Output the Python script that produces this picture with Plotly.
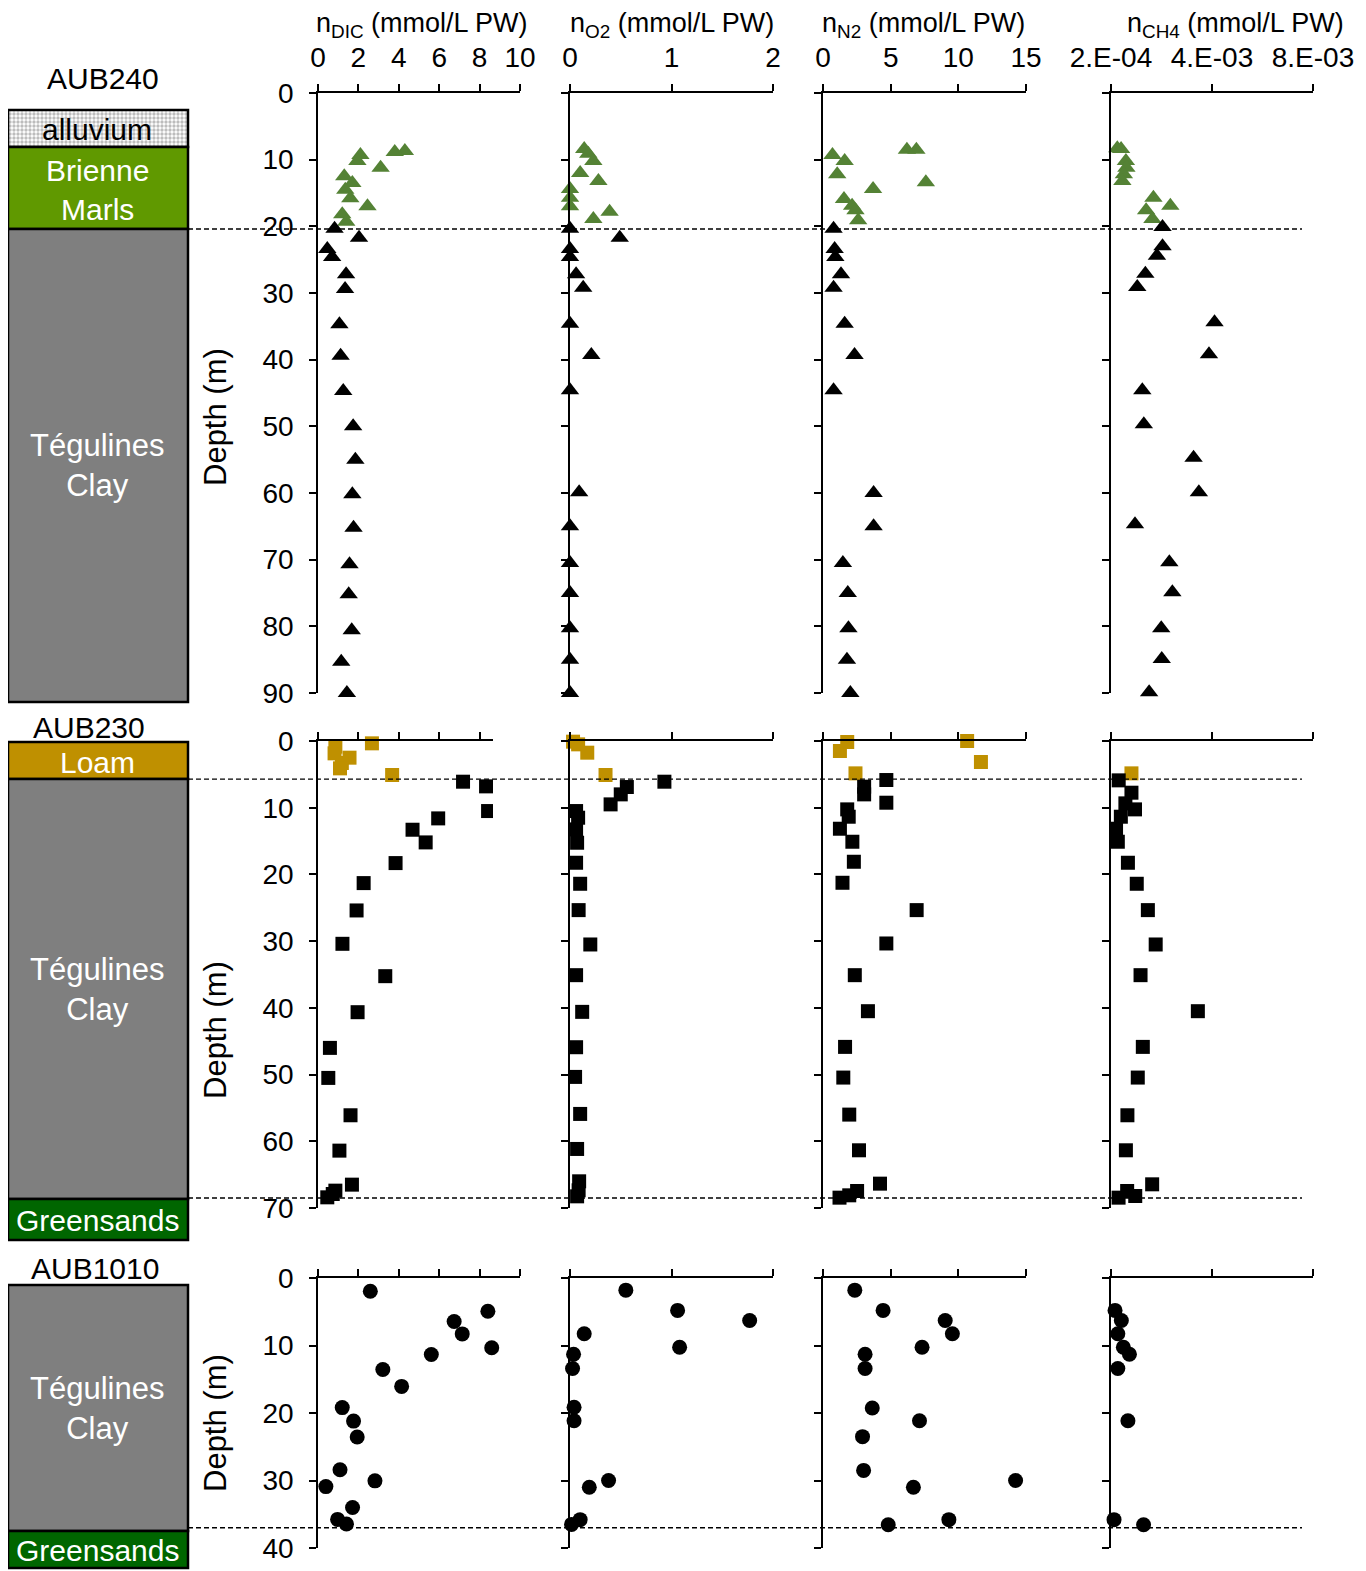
import plotly.graph_objects as go
from plotly.subplots import make_subplots

W, H = 1366, 1571
OFF = 8  # page body margin
FONT = "Liberation Sans, Arial, sans-serif"

# ------------------------------------------------------------------ data
# AUB240 - Brienne Marls samples (green triangles)
b240_top_dic_d = [8.7, 8.85, 9.3, 10.2, 11.2, 12.5, 13.5, 14.5, 15.8, 17.0, 18.2, 19.3]
b240_top_dic_v = [4.3, 3.8, 2.1, 1.95, 3.1, 1.3, 1.7, 1.35, 1.6, 2.45, 1.2, 1.4]
b240_top_o2_d = [8.4, 9.1, 10.2, 12.0, 13.2, 14.4, 15.7, 17.0, 17.8, 18.9]
b240_top_o2_v = [0.14, 0.18, 0.23, 0.10, 0.28, 0.0, 0.0, 0.0, 0.39, 0.23]
b240_top_n2_d = [8.5, 8.5, 9.3, 10.2, 12.2, 13.4, 14.4, 15.9, 16.9, 17.6, 19.1]
b240_top_n2_v = [6.2, 6.9, 0.7, 1.6, 1.05, 7.6, 3.7, 1.55, 2.15, 2.4, 2.6]
b240_top_ch4_d = [8.3, 8.4, 10.2, 11.2, 12.2, 13.2, 15.7, 16.9, 17.6, 18.9]
b240_top_ch4_v = [0.00045, 0.0006, 0.00079, 0.00081, 0.00071, 0.00065, 0.00188, 0.00255, 0.00159, 0.00184]

# AUB240 - Tégulines Clay samples (black triangles)
b240_dic_d = [20.35, 21.7, 23.4, 24.6, 27.2, 29.4, 34.7, 39.4, 44.7, 50.0, 55.0, 60.2, 65.2, 70.7, 75.2, 80.6, 85.3, 90.0]
b240_dic_v = [0.82, 2.03, 0.46, 0.70, 1.39, 1.34, 1.06, 1.12, 1.25, 1.74, 1.85, 1.70, 1.76, 1.56, 1.52, 1.67, 1.15, 1.43]
b240_o2_d = [20.35, 21.7, 23.4, 24.6, 27.2, 29.2, 34.6, 39.3, 44.6, 59.9, 65.0, 70.5, 75.0, 80.3, 85.0, 90.0]
b240_o2_v = [0.0, 0.49, 0.0, 0.0, 0.06, 0.13, 0.0, 0.21, 0.0, 0.09, 0.0, 0.0, 0.0, 0.0, 0.0, 0.0]
b240_n2_d = [20.35, 23.4, 24.6, 27.2, 29.2, 34.6, 39.3, 44.6, 60.0, 65.0, 70.5, 75.0, 80.3, 85.0, 90.0]
b240_n2_v = [0.78, 0.86, 0.91, 1.33, 0.78, 1.6, 2.33, 0.78, 3.74, 3.74, 1.47, 1.83, 1.88, 1.77, 2.02]
b240_ch4_d = [20.1, 23.0, 24.4, 27.1, 29.1, 34.4, 39.2, 44.6, 49.7, 54.7, 59.9, 64.7, 70.4, 74.9, 80.3, 84.9, 89.9]
b240_ch4_v = [0.00224, 0.00224, 0.00202, 0.00156, 0.00124, 0.00430, 0.00408, 0.00144, 0.00150, 0.00347,
              0.00368, 0.00115, 0.00251, 0.00263, 0.00219, 0.00221, 0.00171]

# AUB230 - Loam samples (ochre squares)
b230_top_dic_d = [0.35, 0.85, 1.85, 2.5, 3.3, 4.1, 5.1]
b230_top_dic_v = [2.67, 0.86, 0.82, 1.56, 1.18, 1.09, 3.67]
b230_top_o2_d = [0.1, 0.5, 1.75, 3.35, 5.1]
b230_top_o2_v = [0.03, 0.08, 0.17, 2.09, 0.35]
b230_top_n2_d = [0.0, 0.15, 1.5, 3.15, 4.85]
b230_top_n2_v = [10.65, 1.79, 1.25, 11.67, 2.4]
b230_top_ch4_d = [4.85]
b230_top_ch4_v = [0.00101]

# AUB230 - Tégulines Clay samples (black squares)
b230_dic_d = [6.1, 6.8, 10.5, 11.6, 13.3, 15.2, 18.3, 21.3, 25.4, 30.4, 35.25, 40.65, 46.0, 50.5, 56.1,
              61.4, 66.5, 67.4, 67.9, 68.4]
b230_dic_v = [7.18, 8.32, 8.42, 5.95, 4.68, 5.33, 3.84, 2.26, 1.91, 1.21, 3.33, 1.96, 0.59, 0.51, 1.61,
              1.06, 1.68, 0.86, 0.73, 0.46]
b230_o2_d = [6.1, 6.9, 8.0, 9.5, 10.5, 11.5, 13.25, 15.25, 18.25, 21.4, 25.35, 30.5, 35.1, 40.6, 45.9,
             50.35, 55.9, 61.15, 66.0, 67.35, 68.25]
b230_o2_v = [0.93, 0.56, 0.50, 0.40, 0.06, 0.08, 0.06, 0.07, 0.06, 0.10, 0.085, 0.20, 0.06, 0.12, 0.06,
             0.05, 0.10, 0.07, 0.09, 0.085, 0.07]
b230_n2_d = [5.85, 6.85, 8.0, 9.25, 10.25, 11.35, 13.15, 15.1, 18.1, 21.25, 25.35, 30.35, 35.1, 40.5,
             45.85, 50.45, 56.0, 61.35, 66.35, 67.45, 68.1, 68.45]
b230_n2_v = [4.68, 3.04, 3.04, 4.68, 1.79, 1.90, 1.25, 2.17, 2.28, 1.44, 6.92, 4.68, 2.35, 3.32,
             1.63, 1.50, 1.94, 2.66, 4.21, 2.52, 1.94, 1.22]
b230_ch4_d = [5.9, 7.75, 9.35, 10.25, 11.35, 13.15, 15.1, 18.25, 21.4, 25.35, 30.5, 35.1, 40.5, 45.85,
              50.45, 56.1, 61.35, 66.45, 67.45, 68.2, 68.45]
b230_ch4_v = [0.000505, 0.00101, 0.00077, 0.00115, 0.00059, 0.0004, 0.00047, 0.00087, 0.00122, 0.00166,
              0.00197, 0.00137, 0.00364, 0.00146, 0.00126, 0.00085, 0.00079, 0.00183, 0.00084, 0.00116,
              0.0005]

# AUB1010 - Tégulines Clay samples (black circles)
b1010_dic_d = [1.97, 4.93, 6.45, 8.28, 10.34, 11.33, 13.55, 16.06, 19.2, 21.2, 23.55, 28.4, 30.05, 30.9,
               34.0, 35.76, 36.45]
b1010_dic_v = [2.59, 8.41, 6.74, 7.14, 8.6, 5.61, 3.21, 4.14, 1.2, 1.76, 1.94, 1.09, 2.82, 0.39,
               1.71, 0.97, 1.41]
b1010_o2_d = [1.8, 4.8, 6.3, 8.25, 10.25, 11.3, 13.4, 19.15, 21.15, 30.0, 31.0, 35.8, 36.5]
b1010_o2_v = [0.55, 1.06, 1.77, 0.14, 1.08, 0.035, 0.025, 0.04, 0.04, 0.38, 0.19, 0.10, 0.015]
b1010_n2_d = [1.8, 4.8, 6.3, 8.25, 10.25, 11.3, 13.4, 19.25, 21.15, 23.5, 28.5, 30.0, 31.0, 35.8, 36.55]
b1010_n2_v = [2.35, 4.44, 9.03, 9.56, 7.32, 3.11, 3.11, 3.64, 7.13, 2.92, 3.0, 14.23, 6.68, 9.3, 4.82]
b1010_ch4_d = [4.8, 6.3, 8.25, 10.25, 11.3, 13.4, 21.15, 35.8, 36.55]
b1010_ch4_v = [0.00036, 0.00061, 0.00047, 0.00069, 0.00093, 0.00047, 0.00087, 0.00032, 0.00149]

# formation boundaries (m)
b240_bounds = [20.4]
b230_bounds = [5.7, 68.5]
b1010_bounds = [37.0]

# axis ticks / labels
col_titles = ["n<sub>DIC</sub> (mmol/L PW)", "n<sub>O2</sub> (mmol/L PW)",
              "n<sub>N2</sub> (mmol/L PW)", "n<sub>CH4</sub> (mmol/L PW)"]
dic_ticks = [0, 2, 4, 6, 8, 10]
o2_ticks = [0, 1, 2]
n2_ticks = [0, 5, 10, 15]
ch4_ticks = [0.0002, 0.0042, 0.0082]
ch4_ticktext = ["2.E-04", "4.E-03", "8.E-03"]
row_depth_max = [90, 70, 40]
borehole_names = ["AUB240", "AUB230", "AUB1010"]

# ------------------------------------------------------------------ styling
GREEN = "#548235"
OCHRE = "#BF9000"
BLACK = "#000000"


def px_x(x):
    return (x - OFF) / W


def px_y(y):
    return 1 - (y - OFF) / H


fig = make_subplots(rows=3, cols=4)

col_px = [(318, 520), (570, 773), (823, 1026), (1111, 1313)]
row_px = [(93, 693), (741, 1208), (1278, 1548)]

sym = ["triangle-up", "square", "circle"]
msize = [16, 14, 15]

rows_data = [
    [(b240_top_dic_d, b240_top_dic_v, b240_dic_d, b240_dic_v),
     (b240_top_o2_d, b240_top_o2_v, b240_o2_d, b240_o2_v),
     (b240_top_n2_d, b240_top_n2_v, b240_n2_d, b240_n2_v),
     (b240_top_ch4_d, b240_top_ch4_v, b240_ch4_d, b240_ch4_v)],
    [(b230_top_dic_d, b230_top_dic_v, b230_dic_d, b230_dic_v),
     (b230_top_o2_d, b230_top_o2_v, b230_o2_d, b230_o2_v),
     (b230_top_n2_d, b230_top_n2_v, b230_n2_d, b230_n2_v),
     (b230_top_ch4_d, b230_top_ch4_v, b230_ch4_d, b230_ch4_v)],
    [(None, None, b1010_dic_d, b1010_dic_v),
     (None, None, b1010_o2_d, b1010_o2_v),
     (None, None, b1010_n2_d, b1010_n2_v),
     (None, None, b1010_ch4_d, b1010_ch4_v)],
]
top_colors = [GREEN, OCHRE, None]

for r in range(3):
    for c in range(4):
        td, tv, d, v = rows_data[r][c]
        if td is not None:
            fig.add_trace(go.Scatter(
                x=tv, y=td, mode="markers", showlegend=False, cliponaxis=False,
                marker=dict(symbol=sym[r], size=msize[r], color=top_colors[r], line=dict(width=0))),
                row=r + 1, col=c + 1)
        clip = (r == 1 and c == 0)
        fig.add_trace(go.Scatter(
            x=v, y=d, mode="markers", showlegend=False, cliponaxis=clip,
            marker=dict(symbol=sym[r], size=msize[r], color=BLACK, line=dict(width=0))),
            row=r + 1, col=c + 1)

tickfont = dict(family=FONT, size=28, color="black")
axis_common = dict(showline=True, linecolor="black", linewidth=1.6, ticks="outside",
                   ticklen=7, tickwidth=1.6, tickcolor="black", showgrid=False,
                   zeroline=False, tickfont=tickfont, automargin=False)

for r in range(3):
    for c in range(4):
        idx = r * 4 + c + 1
        xs = "xaxis" if idx == 1 else f"xaxis{idx}"
        ys = "yaxis" if idx == 1 else f"yaxis{idx}"
        x0, x1 = col_px[c]
        if r == 1 and c == 0:
            x1 = 493
        y0, y1 = row_px[r]
        if c == 0:
            xr = [0, 10 * (x1 - x0) / (520 - 318)]
            tv, tt = dic_ticks, [str(t) for t in dic_ticks]
        elif c == 1:
            xr = [0, 2]
            tv, tt = o2_ticks, [str(t) for t in o2_ticks]
        elif c == 2:
            xr = [0, 15]
            tv, tt = n2_ticks, [str(t) for t in n2_ticks]
        else:
            xr = [ch4_ticks[0], ch4_ticks[-1]]
            tv, tt = ch4_ticks, ch4_ticktext
        fig.update_layout({
            xs: dict(axis_common, domain=[px_x(x0), px_x(x1)], range=xr, side="top",
                     tickmode="array", tickvals=tv, ticktext=tt,
                     showticklabels=(r == 0), ticklabelstandoff=6),
            ys: dict(axis_common, domain=[px_y(y1), px_y(y0)],
                     range=[row_depth_max[r], 0], tickmode="linear", tick0=0, dtick=10,
                     showticklabels=(c == 0), ticklabelstandoff=10),
        })

# ------------------------------------------------------------------ lithology column
shapes = []
GREY = "#7F7F7F"
litho_boxes = [
    (147, 229, "#609900"),
    (229, 702, GREY),
    (742, 779, OCHRE),
    (779, 1199, GREY),
    (1199, 1240, "#006600"),
    (1285, 1531, GREY),
    (1531, 1568, "#006600"),
]
for ya, yb, col in litho_boxes:
    shapes.append(dict(type="rect", xref="paper", yref="paper",
                       x0=px_x(8), x1=px_x(188), y0=px_y(yb), y1=px_y(ya),
                       fillcolor=col, line=dict(color="black", width=2.5), layer="above"))

# alluvium with stipple pattern on an overlay axis in screen pixels
fig.add_trace(go.Scatter(
    x=[8, 188, 188, 8, 8], y=[110, 110, 147, 147, 110], mode="lines", fill="toself",
    fillcolor="white", line=dict(color="black", width=2.5), showlegend=False,
    fillpattern=dict(shape=".", fgcolor="#7a7a7a", bgcolor="white", size=4, solidity=0.55),
    xaxis="x13", yaxis="y13", hoverinfo="skip"))
fig.update_layout(
    xaxis13=dict(domain=[0, 1], range=[OFF, W + OFF], visible=False, anchor="y13",
                 fixedrange=True, automargin=False),
    yaxis13=dict(domain=[0, 1], range=[H + OFF, OFF], visible=False, anchor="x13",
                 fixedrange=True, automargin=False),
)

# dashed formation boundaries
for yref, bounds in (("y", b240_bounds), ("y5", b230_bounds), ("y9", b1010_bounds)):
    for b in bounds:
        shapes.append(dict(type="line", xref="paper", yref=yref, x0=px_x(188), x1=px_x(1302),
                           y0=b, y1=b, line=dict(color="black", width=1.3, dash="5px,3px")))

annotations = []


def ann(text, x, y, size=27, color="black", angle=0):
    annotations.append(dict(text=text, x=px_x(x), y=px_y(y), xref="paper", yref="paper",
                            showarrow=False, xanchor="center", yanchor="middle",
                            textangle=angle, font=dict(family=FONT, size=size, color=color)))


for t, cx in zip(col_titles, [422, 672, 923, 1235]):
    ann(t, cx, 25, size=27)

ann(borehole_names[0], 103, 78, size=30)
ann(borehole_names[1], 89, 727, size=30)
ann(borehole_names[2], 95, 1268, size=30)

ann("alluvium", 97, 129, size=30)
ann("Brienne<br>Marls", 97, 190, size=30, color="white")
ann("Tégulines<br>Clay", 97, 466, size=31, color="white")
ann("Loam", 97, 762, size=30, color="white")
ann("Tégulines<br>Clay", 97, 990, size=31, color="white")
ann("Greensands", 97, 1220, size=30, color="white")
ann("Tégulines<br>Clay", 97, 1408, size=31, color="white")
ann("Greensands", 97, 1550, size=30, color="white")

for yc in (417, 1030, 1423):
    ann("Depth (m)", 215, yc, size=31, angle=-90)

fig.update_layout(
    width=W, height=H, autosize=False, margin=dict(l=0, r=0, t=0, b=0, pad=0),
    paper_bgcolor="white", plot_bgcolor="rgba(0,0,0,0)",
    shapes=shapes, annotations=annotations, showlegend=False,
    font=dict(family=FONT, color="black"),
)

fig.write_html("out.html")
